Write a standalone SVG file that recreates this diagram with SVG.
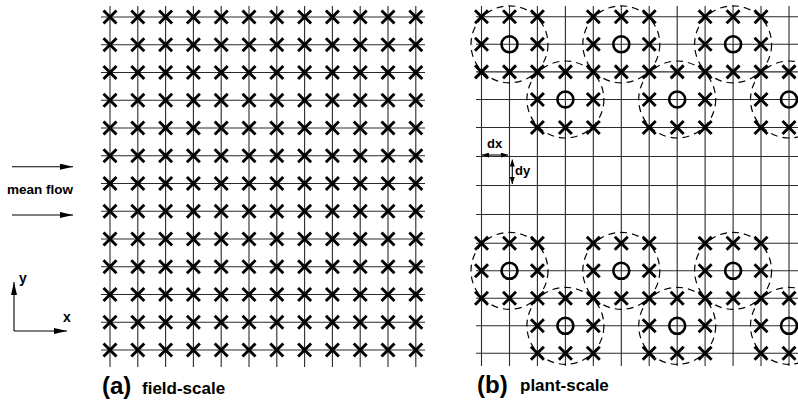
<svg xmlns="http://www.w3.org/2000/svg" xmlns:xlink="http://www.w3.org/1999/xlink" width="798" height="403" viewBox="0 0 798 403">
<style>
.g{stroke:#2a2a2a;stroke-width:1.1;fill:none}
.x{stroke:#000;stroke-width:2.9;fill:none;stroke-linecap:butt}
.p{stroke:#000;stroke-width:2.6;fill:none}
.d{stroke:#000;stroke-width:1.2;fill:none;stroke-dasharray:7,5}
.t{font-family:"Liberation Sans",Arial,Helvetica,sans-serif;font-weight:bold;fill:#000}
.a{stroke:#000;stroke-width:1.1;fill:none}
</style>
<defs>
<path id="c" class="x" d="M-6.5,-6.5L6.5,6.5M-6.5,6.5L6.5,-6.5"/>
<circle id="o" class="p" r="8"/>
<marker id="big" viewBox="0 0 13 6" refX="13" refY="3" markerWidth="13" markerHeight="6" markerUnits="userSpaceOnUse" orient="auto"><path d="M0,0L13,3L0,6z" fill="#000"/></marker>
<marker id="sm" viewBox="0 0 7 5" refX="7" refY="2.5" markerWidth="7" markerHeight="5" markerUnits="userSpaceOnUse" orient="auto-start-reverse"><path d="M0,0L7,2.5L0,5z" fill="#000"/></marker>
<g id="rowA">
<use xlink:href="#c" x="110"/><use xlink:href="#c" x="137.8"/><use xlink:href="#c" x="165.6"/><use xlink:href="#c" x="193.4"/><use xlink:href="#c" x="221.2"/><use xlink:href="#c" x="249"/><use xlink:href="#c" x="276.8"/><use xlink:href="#c" x="304.6"/><use xlink:href="#c" x="332.4"/><use xlink:href="#c" x="360.2"/><use xlink:href="#c" x="388"/><use xlink:href="#c" x="415.8"/>
</g>
<g id="bTop">
<use xlink:href="#c" x="481.5"/><use xlink:href="#c" x="509.5"/><use xlink:href="#c" x="537.4"/><use xlink:href="#c" x="593.3"/><use xlink:href="#c" x="621.3"/><use xlink:href="#c" x="649.2"/><use xlink:href="#c" x="705.1"/><use xlink:href="#c" x="733.1"/><use xlink:href="#c" x="761"/>
</g>
<g id="bMid1">
<use xlink:href="#c" x="481.5"/><use xlink:href="#o" x="509.5"/><use xlink:href="#c" x="537.4"/><use xlink:href="#c" x="593.3"/><use xlink:href="#o" x="621.3"/><use xlink:href="#c" x="649.2"/><use xlink:href="#c" x="705.1"/><use xlink:href="#o" x="733.1"/><use xlink:href="#c" x="761"/>
</g>
<g id="bAll">
<use xlink:href="#c" x="481.5"/><use xlink:href="#c" x="509.5"/><use xlink:href="#c" x="537.4"/><use xlink:href="#c" x="565.4"/><use xlink:href="#c" x="593.3"/><use xlink:href="#c" x="621.3"/><use xlink:href="#c" x="649.2"/><use xlink:href="#c" x="677.2"/><use xlink:href="#c" x="705.1"/><use xlink:href="#c" x="733.1"/><use xlink:href="#c" x="761"/><use xlink:href="#c" x="789"/>
</g>
<g id="bMid2">
<use xlink:href="#c" x="537.4"/><use xlink:href="#o" x="565.4"/><use xlink:href="#c" x="593.3"/><use xlink:href="#c" x="649.2"/><use xlink:href="#o" x="677.2"/><use xlink:href="#c" x="705.1"/><use xlink:href="#c" x="761"/><use xlink:href="#o" x="789"/>
</g>
<g id="bBot">
<use xlink:href="#c" x="537.4"/><use xlink:href="#c" x="565.4"/><use xlink:href="#c" x="593.3"/><use xlink:href="#c" x="649.2"/><use xlink:href="#c" x="677.2"/><use xlink:href="#c" x="705.1"/><use xlink:href="#c" x="761"/><use xlink:href="#c" x="789"/>
</g>
<g id="dashRow1">
<circle class="d" cx="509.5" r="38.5"/><circle class="d" cx="621.3" r="38.5"/><circle class="d" cx="733.1" r="38.5"/>
</g>
<g id="dashRow2">
<circle class="d" cx="565.4" r="38.5"/><circle class="d" cx="677.2" r="38.5"/><circle class="d" cx="789" r="38.5"/>
</g>
</defs>
<rect width="798" height="403" fill="#fff"/>

<g id="panel-a">
<g id="grid-a" class="g">
<path d="M110,6V367M137.8,6V367M165.6,6V367M193.4,6V367M221.2,6V367M249,6V367M276.8,6V367M304.6,6V367M332.4,6V367M360.2,6V367M388,6V367M415.8,6V367"/>
<path d="M101,17H425M101,44.75H425M101,72.5H425M101,100.25H425M101,128H425M101,155.75H425M101,183.5H425M101,211.25H425M101,239H425M101,266.75H425M101,294.5H425M101,322.25H425M101,350H425"/>
</g>
<g id="crosses-a">
<use xlink:href="#rowA" y="17"/><use xlink:href="#rowA" y="44.75"/><use xlink:href="#rowA" y="72.5"/><use xlink:href="#rowA" y="100.25"/><use xlink:href="#rowA" y="128"/><use xlink:href="#rowA" y="155.75"/><use xlink:href="#rowA" y="183.5"/><use xlink:href="#rowA" y="211.25"/><use xlink:href="#rowA" y="239"/><use xlink:href="#rowA" y="266.75"/><use xlink:href="#rowA" y="294.5"/><use xlink:href="#rowA" y="322.25"/><use xlink:href="#rowA" y="350"/>
</g>
</g>

<g id="panel-b">
<g id="grid-b" class="g">
<path d="M481.5,6V366M509.5,6V366M537.4,6V366M565.4,6V366M593.3,6V366M621.3,6V366M649.2,6V366M677.2,6V366M705.1,6V366M733.1,6V366M761,6V366M789,6V366"/>
<path d="M476,16.7H798M476,44.3H798M476,71.9H798M476,99.5H798M476,127.5H798M476,156.5H798M476,185.5H798M476,214.5H798M476,243.3H798M476,270.8H798M476,298.3H798M476,325.8H798M476,353.3H798"/>
</g>
<g id="plants-b">
<use xlink:href="#bTop" y="16.7"/><use xlink:href="#bMid1" y="44.3"/><use xlink:href="#bAll" y="71.9"/><use xlink:href="#bMid2" y="99.5"/><use xlink:href="#bBot" y="127.5"/>
<use xlink:href="#bTop" y="243.3"/><use xlink:href="#bMid1" y="270.8"/><use xlink:href="#bAll" y="298.3"/><use xlink:href="#bMid2" y="325.8"/><use xlink:href="#bBot" y="353.3"/>
</g>
<g id="clusters-b">
<use xlink:href="#dashRow1" y="44.3"/><use xlink:href="#dashRow2" y="99.5"/>
<use xlink:href="#dashRow1" y="270.8"/><use xlink:href="#dashRow2" y="325.8"/>
</g>
</g>

<g id="connectors">
<path class="a" d="M12,166.7H73" marker-end="url(#big)"/>
<path class="a" d="M12,215H73" marker-end="url(#big)"/>
<path class="a" d="M14,331V282" marker-end="url(#big)"/>
<path class="a" d="M14,331H67" marker-end="url(#big)"/>
<path class="a" d="M482,155H508" marker-start="url(#sm)" marker-end="url(#sm)"/>
<path class="a" d="M512.3,159.5V184" marker-start="url(#sm)" marker-end="url(#sm)"/>
</g>

<g id="labels">
<text class="t" x="40" y="194" font-size="13.5" text-anchor="middle">mean flow</text>
<text class="t" x="19" y="283" font-size="14">y</text>
<text class="t" x="63" y="322" font-size="14">x</text>
<text class="t" x="487" y="148" font-size="13">dx</text>
<text class="t" x="515" y="175" font-size="13">dy</text>
<text class="t" x="102" y="394" font-size="24">(a)</text>
<text class="t" x="142" y="394" font-size="17">field-scale</text>
<text class="t" x="477" y="393" font-size="24">(b)</text>
<text class="t" x="520" y="391" font-size="17">plant-scale</text>
</g>
</svg>
